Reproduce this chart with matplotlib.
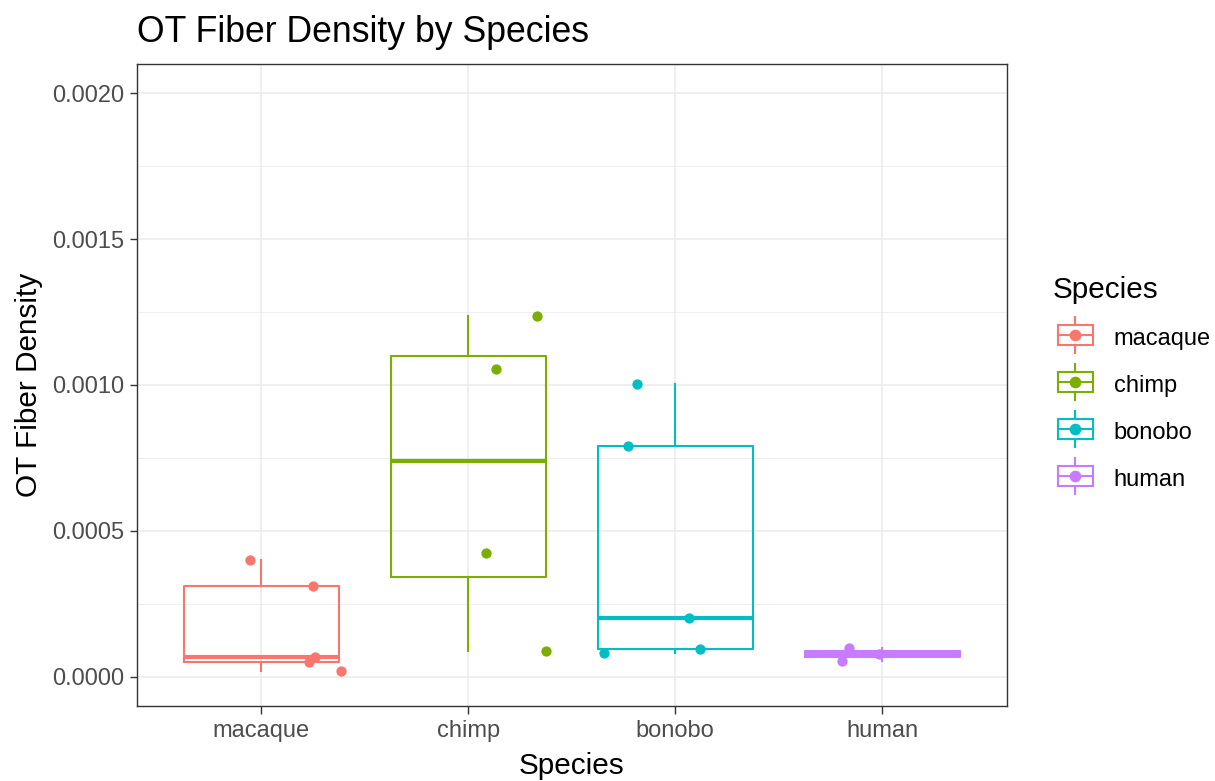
# OT fiber density per species: ggplot-style boxplot with jittered points (theme_bw look).
import matplotlib
matplotlib.use("Agg")
import matplotlib.pyplot as plt
from matplotlib.legend_handler import HandlerBase
from matplotlib.lines import Line2D
from matplotlib.patches import Rectangle

plt.rcParams["font.family"] = ["Liberation Sans", "DejaVu Sans"]

SPECIES = ["macaque", "chimp", "bonobo", "human"]
COLORS = ["#F8766D", "#7CAE00", "#00BFC4", "#C77CFF"]

# values
macaque = [0.000401, 0.000311, 0.0000675, 0.0000524, 0.0000195]
chimp = [0.001236, 0.001055, 0.000425, 0.000089]
bonobo = [0.001003, 0.000791, 0.000202, 0.0000959, 0.0000822]
human = [0.0000993, 0.0000548, 0.0000788]

# horizontal jitter of each point (category units), as seen in the picture
macaque_dx = [-0.053, 0.249, 0.26, 0.233, 0.385]
chimp_dx = [0.333, 0.135, 0.087, 0.377]
bonobo_dx = [-0.184, -0.227, 0.068, 0.121, -0.343]
human_dx = [-0.159, -0.193, -0.014]

VALUES = [macaque, chimp, bonobo, human]
JITTER = [macaque_dx, chimp_dx, bonobo_dx, human_dx]

LW = 1.5      # box line width (pt)
MS = 7.4      # point size (pt)


class BoxKey(HandlerBase):
    """Legend key that looks like ggplot's boxplot + point glyph."""
    def create_artists(self, legend, orig_handle, xdescent, ydescent,
                       width, height, fontsize, trans):
        c = orig_handle.get_color()
        bw, bh, wh = 25.0, 14.4, 26.0
        cx = bw / 2 - xdescent + 3.6
        cy = height / 2 - ydescent + 1.4
        box = Rectangle((cx - bw / 2, cy - bh / 2), bw, bh, fill=False,
                        ec=c, lw=LW, transform=trans)
        med = Line2D([cx - bw / 2, cx + bw / 2], [cy, cy], color=c, lw=LW, transform=trans)
        wt = Line2D([cx, cx], [cy + bh / 2, cy + wh / 2], color=c, lw=LW, transform=trans)
        wb = Line2D([cx, cx], [cy - bh / 2, cy - wh / 2], color=c, lw=LW, transform=trans)
        pt = Line2D([cx], [cy], marker="o", ms=MS, mfc=c, mec=c, ls="", transform=trans)
        return [box, med, wt, wb, pt]


fig = plt.figure(figsize=(12.15, 7.81), dpi=100)
ax = fig.add_axes([137 / 1215, 1 - 706 / 781, (1006.5 - 137) / 1215, (706 - 64) / 781])

for i, (vals, dx, col) in enumerate(zip(VALUES, JITTER, COLORS)):
    pos = i + 1
    ax.boxplot([vals], positions=[pos], widths=0.75, whis=1.5, showfliers=False,
               showcaps=False, patch_artist=False,
               boxprops=dict(color=col, lw=LW),
               whiskerprops=dict(color=col, lw=LW),
               medianprops=dict(color=col, lw=LW * 2),
               zorder=3)
    ax.plot([pos + d for d in dx], vals, "o", color=col, ms=MS, mew=0, zorder=4)

ax.set_xlim(0.4, 4.6)
ax.set_ylim(-0.0001, 0.0021)
ax.set_xticks(range(1, 5))
ax.set_xticklabels(SPECIES)
ax.set_yticks([0, 0.0005, 0.001, 0.0015, 0.002])
ax.set_yticklabels(["0.0000", "0.0005", "0.0010", "0.0015", "0.0020"])
ax.set_yticks([0.00025, 0.00075, 0.00125, 0.00175], minor=True)

ax.grid(True, which="major", color="#EBEBEB", lw=1.1, zorder=0)
ax.grid(True, which="minor", axis="y", color="#EBEBEB", lw=0.55, zorder=0)
ax.set_axisbelow(True)
for s in ax.spines.values():
    s.set_color("#333333")
    s.set_linewidth(1.0)

ax.tick_params(axis="both", which="major", labelsize=17, labelcolor="#4D4D4D",
               color="#333333", length=5.4, width=1.0, pad=4)
ax.tick_params(axis="x", which="major", pad=5)
ax.tick_params(axis="y", which="minor", length=0)

ax.set_xlabel("Species", fontsize=21.4, labelpad=7)
ax.set_ylabel("OT Fiber Density", fontsize=21.4, labelpad=6)
fig.text(137 / 1215, 1 - 42 / 781, "OT Fiber Density by Species", fontsize=25.7,
         ha="left", va="baseline")

handles = [Line2D([], [], color=c) for c in COLORS]
fig.legend(handles, SPECIES, handler_map={Line2D: BoxKey()},
           loc="upper left", bbox_to_anchor=(1053 / 1215, 1 - 276 / 781),
           frameon=False, title="Species", title_fontsize=21.4, fontsize=17,
           alignment="left", borderpad=0, borderaxespad=0,
           handlelength=1.5, handleheight=1.45, labelspacing=0.8,
           handletextpad=1.07)

fig.savefig("out.png", dpi=100)
